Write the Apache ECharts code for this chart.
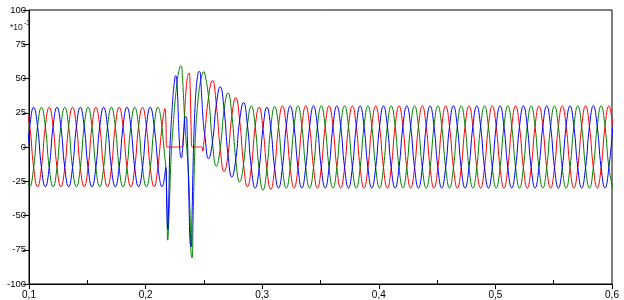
<!DOCTYPE html>
<html><head><meta charset="utf-8">
<script src="https://cdn.jsdelivr.net/npm/echarts@6/dist/echarts.min.js"></script>
<style>html,body{margin:0;padding:0;background:#fff}#c{width:624px;height:300px}</style>
</head><body><div id="c"></div>
<script>
// sample times in milliseconds
const timeMs = [
 97.33,100.67,104,107.33,110.67,114,117.33,120.67,124,127.33,130.67,134,137.33,140.67,144,147.33,150.67,
 154,157.33,160.67,164,167.33,170.67,174,177.33,180.67,184,187.33,190.67,194,197.33,200.67,204,207.33,
 210.67,211.5,212.33,213.17,214,214.83,215.67,216.5,217.33,218.17,219,219.83,220.67,221.5,222.33,223.17,
 224,224.83,225.67,226.5,227.33,228.17,229,229.83,230.67,231.5,232.33,233.17,234,234.83,235.67,236.5,
 237.33,238.17,239,239.83,240.67,241.5,242.33,243.17,244,244.83,245.67,246.5,247.33,248.17,249,249.83,
 250.67,254,257.33,260.67,264,267.33,270.67,274,277.33,280.67,284,287.33,290.67,294,297.33,300.67,
 304,307.33,310.67,314,317.33,320.67,324,327.33,330.67,334,337.33,340.67,344,347.33,350.67,354,357.33,360.67,
 364,367.33,370.67,374,377.33,380.67,384,387.33,390.67,394,397.33,400.67,404,407.33,410.67,414,417.33,420.67,
 424,427.33,430.67,434,437.33,440.67,444,447.33,450.67,454,457.33,460.67,464,467.33,470.67,474,477.33,480.67,
 484,487.33,490.67,494,497.33,500.67,504,507.33,510.67,514,517.33,520.67,524,527.33,530.67,534,537.33,540.67,
 544,547.33,550.67,554,557.33,560.67,564,567.33,570.67,574,577.33,580.67,584,587.33,590.67,594,597.33,600.67
];
// values (x10^-3)
const phaseRed = [
 29,15,
 -15,-29,-15,15,29,15, -15,-29,-15,15,29,15, -15,-29,-15,15,29,15, -15,-29,-15,15,29,15, -15,-29,-15,15,29,15,
 -15,-29,
 -14.5,-7.5,0,7.5,14.5,20.5,25,28,20,0, 0,0,0,0,0,0,0,0,0,0,0,0,0,0,0,0,
 8,20,33,43,50,53,54,45,15, 0,0,0,0,0,0,0,0,0,0,0, -3,2,
 9,36.5,48.5,31,-1,-18,-5.5,23,36,19.5,-12.5,-29,-15,15,29,13.5,-16,-31,-15.5,
 15,30,15,
 -15,-30,-15,15,30,15, -15,-30,-15,15,30,15, -15,-30,-15,15,30,15, -15,-30,-15,15,30,15,
 -15,-30,-15,15,30,15, -15,-30,-15,15,30,15, -15,-30,-15,15,30,15, -15,-30,-15,15,30,15,
 -15,-30,-15,15,30,15, -15,-30,-15,15,30,15, -15,-30,-15,15,30,15, -15,-30,-15,15,30,15,
 -15,-30,-15,15,30,15, -15,-30,-15,15,30,15
];
const phaseGreen = [
 -15,-29,
 -15,15,29,15,-15,-29, -15,15,29,15,-15,-29, -15,15,29,15,-15,-29, -15,15,29,15,-15,-29, -15,15,29,15,-15,-29,
 -15,15,
 29,28,25,20.5,14.5,7.5,0,-7.5,-14.5,-35,-68,-55,-35,-15,0,10,20,29,37,44,50,54,57,59,59,52,40,25,12,3,
 -5,-15,-30,-50,-78,-81,-55,-25,0,15,25,33,40,45,49,52,54,55,
 54,36.5,3.5,-14,-1,27,39.5,23,-9,-25.5,-12.5,16,30,15,-16,-31.5,-16,14,29.5,
 15,-15,-30,
 -15,15,30,15,-15,-30, -15,15,30,15,-15,-30, -15,15,30,15,-15,-30, -15,15,30,15,-15,-30,
 -15,15,30,15,-15,-30, -15,15,30,15,-15,-30, -15,15,30,15,-15,-30, -15,15,30,15,-15,-30,
 -15,15,30,15,-15,-30, -15,15,30,15,-15,-30, -15,15,30,15,-15,-30, -15,15,30,15,-15,-30,
 -15,15,30,15,-15,-30, -15,15,30,15,-15,-30
];
const phaseBlue = [
 -15,15,
 29,15,-15,-29,-15,15, 29,15,-15,-29,-15,15, 29,15,-15,-29,-15,15, 29,15,-15,-29,-15,15, 29,15,-15,-29,-15,15,
 29,15,
 -14.5,-20.5,-25,-28,-29,-28,-25,-20,-15,-45,-60,-40,-5,10,22,33,42,48,52,51,40,20,3,-6,
 -8,-4,5,15,22,22,10,-15,-45,-70,-73,-50,-15,10,28,40,48,53,55,55,48,36,24,15,
 9,-8.5,3.5,31,44,27,-5.5,-22,-9,19.5,32.5,16,-15,-30,-16,13.5,29,14,-15.5,
 -30,-15,15,
 30,15,-15,-30,-15,15, 30,15,-15,-30,-15,15, 30,15,-15,-30,-15,15, 30,15,-15,-30,-15,15,
 30,15,-15,-30,-15,15, 30,15,-15,-30,-15,15, 30,15,-15,-30,-15,15, 30,15,-15,-30,-15,15,
 30,15,-15,-30,-15,15, 30,15,-15,-30,-15,15, 30,15,-15,-30,-15,15, 30,15,-15,-30,-15,15,
 30,15,-15,-30,-15,15, 30,15,-15,-30,-15,15
];
const xMajorTicks = [0.1, 0.2, 0.3, 0.4, 0.5, 0.6];
const xMinorTicks = [0.15, 0.25, 0.35, 0.45, 0.55];
const yTicks = [-100, -75, -50, -25, 0, 25, 50, 75, 100];
const unitLabel = '*10';
const unitExp = '-3';

const pair = arr => timeMs.map((ms, i) => [ms / 1000, arr[i]]);
const chart = echarts.init(document.getElementById('c'), null, {renderer: 'canvas'});
const font = 'Liberation Sans, Arial, sans-serif';
const mkSeries = (name, arr, color) => ({
  name, type: 'line', data: pair(arr), showSymbol: false, smooth: 0.5,
  lineStyle: {color, width: 1}, itemStyle: {color}, clip: true, silent: true
});
chart.setOption({
  animation: false,
  backgroundColor: '#fff',
  grid: {left: 29, right: 12, top: 10, bottom: 15, show: true, borderColor: '#000', borderWidth: 1},
  xAxis: [{
    type: 'value', min: xMajorTicks[0], max: xMajorTicks[xMajorTicks.length - 1], interval: 0.1,
    axisLine: {onZero: false, lineStyle: {color: '#000', width: 1}},
    axisTick: {length: 5, lineStyle: {color: '#000'}, customValues: xMajorTicks},
    axisLabel: {customValues: xMajorTicks, formatter: v => v.toFixed(1).replace('.', ','), color: '#000', fontSize: 10, fontFamily: font, margin: 6},
    splitLine: {show: false}
  }, {
    type: 'value', min: 0.1, max: 0.6, position: 'bottom', offset: 0,
    axisLine: {show: false, onZero: false},
    axisTick: {inside: true, length: 4, lineStyle: {color: '#000'}, customValues: xMinorTicks},
    axisLabel: {show: false}, splitLine: {show: false}
  }],
  yAxis: {
    type: 'value', min: yTicks[0], max: yTicks[yTicks.length - 1], interval: 25,
    axisLine: {onZero: false, lineStyle: {color: '#000', width: 1}},
    axisTick: {length: 6, lineStyle: {color: '#000'}},
    axisLabel: {color: '#000', fontSize: 9.5, fontFamily: font, margin: 3},
    splitLine: {show: false}
  },
  graphic: [
    {type: 'text', left: 10, top: 23, style: {text: unitLabel, fill: '#222', font: '8.5px ' + font}},
    {type: 'text', left: 24, top: 20, style: {text: unitExp, fill: '#222', font: '7px ' + font}}
  ],
  series: [
    mkSeries('A', phaseRed, '#ff0000'),
    mkSeries('B', phaseGreen, '#008000'),
    mkSeries('C', phaseBlue, '#0000ff')
  ]
});
</script></body></html>
